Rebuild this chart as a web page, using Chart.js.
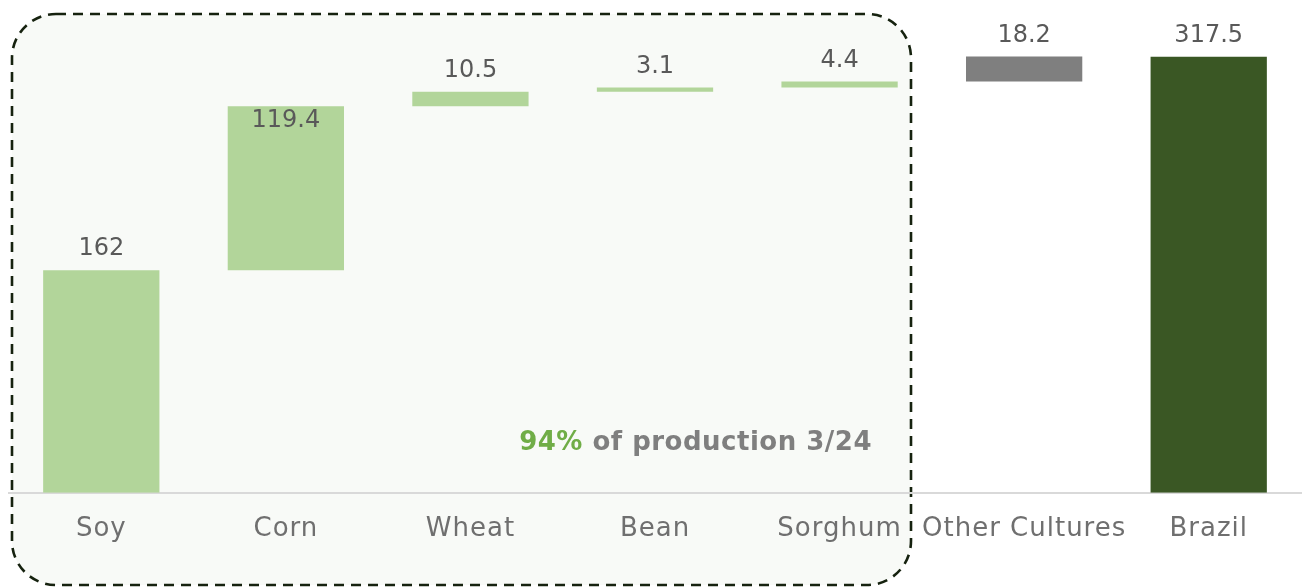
<!DOCTYPE html>
<html>
<head>
<meta charset="utf-8">
<script src="https://cdn.jsdelivr.net/npm/chart.js@4"></script>
<style>
  body { margin: 0; background: #ffffff; }
  canvas { display: block; }
</style>
</head>
<body>
<canvas id="grafico" width="1308" height="587"></canvas>
<script>
// dados do gráfico (produção de grãos, milhões de t)
const categorias = ["Soy", "Corn", "Wheat", "Bean", "Sorghum", "Other Cultures", "Brazil"];
const valores = [162, 119.4, 10.5, 3.1, 4.4, 18.2, 317.5];
const ehTotal = [false, false, false, false, false, false, true];
const cores = ["#b2d59a", "#b2d59a", "#b2d59a", "#b2d59a", "#b2d59a", "#7f7f7f", "#3a5724"];
const destaque = "94%";
const textoDestaque = " of production 3/24";

// montar as barras flutuantes (cascata)
let acumulado = 0;
const barras = valores.map((v, i) => {
  if (ehTotal[i]) return [0, v];
  const inicio = acumulado;
  acumulado += v;
  return [inicio, acumulado];
});

const FONTE = "DejaVu Sans, sans-serif";

// caixa tracejada atrás das culturas principais
const caixaPlugin = {
  id: "caixa",
  beforeDraw(chart) {
    const c = chart.ctx;
    c.save();
    c.beginPath();
    c.roundRect(12, 14, 899, 571, 44);
    c.fillStyle = "#f8faf7";
    c.fill();
    c.setLineDash([10, 7]);
    c.lineWidth = 2.6;
    c.strokeStyle = "#16220f";
    c.stroke();
    c.restore();
    // espaçamento das letras para os rótulos do eixo (fonte mais larga no original)
    c.letterSpacing = "1px";
  },
  beforeDatasetsDraw(chart) {
    chart.ctx.letterSpacing = "0px";
  },
  afterDraw(chart) {
    const c = chart.ctx;
    c.save();
    c.font = "bold 26px " + FONTE;
    c.letterSpacing = "0.5px";
    c.textBaseline = "alphabetic";
    const w1 = c.measureText(destaque).width;
    const w2 = c.measureText(textoDestaque).width;
    const xFim = 872;
    const x0 = xFim - w1 - w2;
    c.fillStyle = "#70ad47";
    c.fillText(destaque, x0, 450);
    c.fillStyle = "#7f7f7f";
    c.fillText(textoDestaque, x0 + w1, 450);
    c.restore();
  }
};

// rótulos de valores sobre as barras
const rotulosPlugin = {
  id: "rotulos",
  afterDatasetsDraw(chart) {
    const c = chart.ctx;
    const meta = chart.getDatasetMeta(0);
    c.save();
    c.font = "24px " + FONTE;
    c.fillStyle = "#595959";
    c.textAlign = "center";
    c.textBaseline = "middle";
    meta.data.forEach((bar, i) => {
      const topo = Math.min(bar.y, bar.base);
      const y = i === 1 ? topo + 15 : topo - 21;
      c.fillText(String(valores[i]), bar.x, y);
    });
    c.restore();
  }
};

new Chart(document.getElementById("grafico"), {
  type: "bar",
  data: {
    labels: categorias,
    datasets: [{
      data: barras,
      backgroundColor: cores,
      borderWidth: 0,
      barPercentage: 0.63,
      categoryPercentage: 1
    }]
  },
  options: {
    responsive: false,
    animation: false,
    layout: { padding: { left: 9, right: 7, top: 12, bottom: 29 } },
    plugins: { legend: { display: false }, tooltip: { enabled: false } },
    scales: {
      x: {
        grid: { display: false },
        border: { color: "#d9d9d9", width: 2 },
        ticks: { color: "#6f6f6f", font: { family: FONTE, size: 26 }, padding: 13, maxRotation: 0, autoSkip: false }
      },
      y: {
        display: false,
        min: 0,
        max: 350
      }
    }
  },
  plugins: [caixaPlugin, rotulosPlugin]
});
</script>
</body>
</html>
